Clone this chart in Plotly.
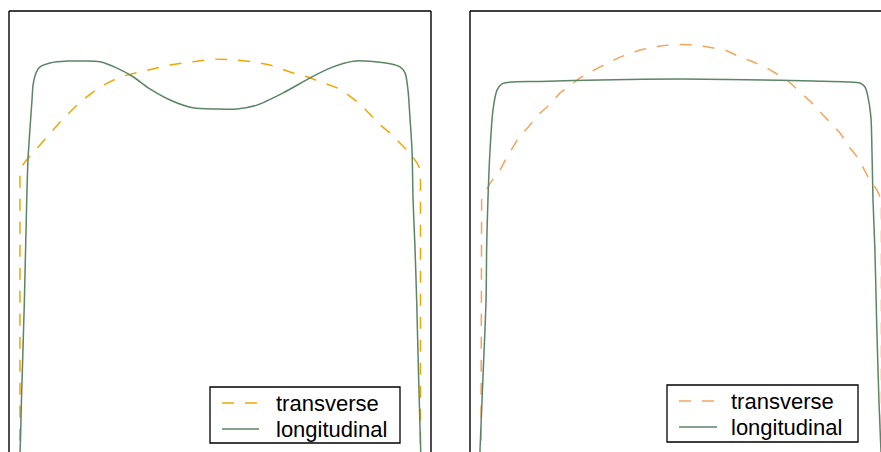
import plotly.graph_objects as go

# Position across the sample (-1 .. 1) and normalised intensity profiles
left_trans_x = [-0.948, -0.948, -0.938, -0.924, -0.853, -0.758, -0.664, -0.569, -0.474, -0.332,
                -0.237, -0.128, -0.033, 0.062, 0.156, 0.237, 0.332, 0.412, 0.569, 0.664,
                0.758, 0.806, 0.853, 0.900, 0.934, 0.950, 0.950]
left_trans_y = [-0.03, 0.711, 0.726, 0.737, 0.780, 0.838, 0.889, 0.927, 0.953, 0.970,
                0.983, 0.991, 0.998, 0.996, 0.991, 0.983, 0.965, 0.953, 0.922, 0.884,
                0.831, 0.810, 0.785, 0.759, 0.734, 0.716, -0.03]

left_long_x = [-0.955, -0.948, -0.941, -0.927, -0.916, -0.910, -0.900, -0.891, -0.886, -0.877,
               -0.867, -0.853, -0.806, -0.725, -0.649, -0.569, -0.488, -0.412, -0.332, -0.237,
               -0.128, -0.014, 0.081, 0.175, 0.299, 0.427, 0.521, 0.640, 0.735, 0.806,
               0.853, 0.877, 0.891, 0.900, 0.910, 0.915, 0.924, 0.932, 0.941, 0.951, 0.953]
left_long_y = [-0.03, 0.000, 0.132, 0.386, 0.640, 0.742, 0.826, 0.894, 0.932, 0.955,
               0.968, 0.978, 0.988, 0.993, 0.993, 0.991, 0.975, 0.953, 0.922, 0.894,
               0.874, 0.871, 0.871, 0.881, 0.912, 0.950, 0.975, 0.993, 0.991, 0.986,
               0.978, 0.963, 0.919, 0.851, 0.767, 0.640, 0.521, 0.386, 0.196, 0.005, -0.03]

right_trans_x = [-0.948, -0.945, -0.938, -0.905, -0.858, -0.825, -0.777, -0.730, -0.668, -0.635,
                 -0.573, -0.479, -0.384, -0.289, -0.194, -0.100, -0.028, 0.043, 0.123, 0.218,
                 0.280, 0.341, 0.408, 0.502, 0.540, 0.578, 0.626, 0.673, 0.716, 0.754,
                 0.801, 0.839, 0.886, 0.929, 0.943, 0.950, 0.950]
right_trans_y = [-0.03, 0.640, 0.648, 0.683, 0.716, 0.749, 0.792, 0.823, 0.861, 0.876,
                 0.912, 0.950, 0.978, 1.003, 1.021, 1.031, 1.035, 1.034, 1.029, 1.019,
                 1.003, 0.991, 0.975, 0.945, 0.927, 0.907, 0.884, 0.856, 0.833, 0.810,
                 0.772, 0.747, 0.699, 0.665, 0.648, 0.627, -0.03]

right_long_x = [-0.955, -0.953, -0.938, -0.924, -0.921, -0.915, -0.905, -0.891, -0.872, -0.848,
                -0.796, -0.668, -0.384, 0.000, 0.469, 0.626, 0.787, 0.848, 0.872, 0.886,
                0.900, 0.905, 0.910, 0.919, 0.927, 0.938, 0.948, 0.950]
right_long_y = [-0.03, 0.000, 0.196, 0.386, 0.521, 0.640, 0.767, 0.869, 0.919, 0.935,
                0.940, 0.941, 0.945, 0.947, 0.944, 0.942, 0.940, 0.937, 0.927, 0.902,
                0.851, 0.767, 0.640, 0.513, 0.335, 0.132, 0.000, -0.03]

series_names = ["transverse", "longitudinal"]

W, H = 881, 452
GREEN = "rgb(92,132,102)"
ORANGE_L = "rgb(240,168,0)"
ORANGE_R = "rgb(246,164,92)"
DASH = "12px,11px"
FONT = "Liberation Sans, Arial, Helvetica, sans-serif"

fig = go.Figure()

fig.add_trace(go.Scatter(x=left_trans_x, y=left_trans_y, mode="lines", name=series_names[0],
                         line=dict(color=ORANGE_L, width=1.5, dash=DASH),
                         xaxis="x", yaxis="y", showlegend=False))
fig.add_trace(go.Scatter(x=left_long_x, y=left_long_y, mode="lines", name=series_names[1],
                         line=dict(color=GREEN, width=1.5, shape="spline", smoothing=0.8),
                         xaxis="x", yaxis="y", showlegend=False))
fig.add_trace(go.Scatter(x=right_trans_x, y=right_trans_y, mode="lines", name=series_names[0],
                         line=dict(color=ORANGE_R, width=1.5, dash=DASH),
                         xaxis="x2", yaxis="y2", showlegend=False))
fig.add_trace(go.Scatter(x=right_long_x, y=right_long_y, mode="lines", name=series_names[1],
                         line=dict(color=GREEN, width=1.5, shape="spline", smoothing=0.8),
                         xaxis="x2", yaxis="y2", showlegend=False))

top = (H - 11) / H
ax = dict(showgrid=False, zeroline=False, showticklabels=False, ticks="", showline=False, fixedrange=True)
fig.update_layout(
    width=W, height=H,
    margin=dict(l=0, r=0, t=0, b=0, autoexpand=False),
    paper_bgcolor="white", plot_bgcolor="white",
    font=dict(family=FONT, color="black"),
    xaxis=dict(ax, domain=[9 / W, 431 / W], range=[-1, 1]),
    yaxis=dict(ax, domain=[0, top], range=[0, 1.12]),
    xaxis2=dict(ax, domain=[470 / W, 1.0], range=[-1, -1 + 2 * 411 / 422]),
    yaxis2=dict(ax, domain=[0, top], range=[0, 1.12]),
    showlegend=False,
)

# Panel frames (the lower edge lies outside the visible area)
frame = dict(color="black", width=1.4)
for xr, yr, sides in (("x domain", "y domain", ("top", "left", "right")),
                      ("x2 domain", "y2 domain", ("top", "left"))):
    if "top" in sides:
        fig.add_shape(type="line", xref=xr, yref=yr, x0=0, x1=1, y0=1, y1=1, line=frame)
    if "left" in sides:
        fig.add_shape(type="line", xref=xr, yref=yr, x0=0, x1=0, y0=0, y1=1, line=frame)
    if "right" in sides:
        fig.add_shape(type="line", xref=xr, yref=yr, x0=1, x1=1, y0=0, y1=1, line=frame)


def px(x):
    return x / W


def py(y):
    return (H - y) / H


# Boxed key for each panel: box, sample lines and labels (pixel layout)
keys = [
    dict(box=(210, 387, 400, 443), sample=(222, 259), text_x=274, rows=(403, 429),
         styles=[dict(color=ORANGE_L, width=1.5, dash=DASH), dict(color=GREEN, width=1.5)]),
    dict(box=(667, 385, 858, 442), sample=(679, 717), text_x=729, rows=(401, 427),
         styles=[dict(color=ORANGE_R, width=1.5, dash=DASH), dict(color=GREEN, width=1.5)]),
]
for k in keys:
    x0, y0, x1, y1 = k["box"]
    fig.add_shape(type="rect", xref="paper", yref="paper",
                  x0=px(x0), x1=px(x1), y0=py(y1), y1=py(y0),
                  line=dict(color="black", width=1.3), fillcolor="white", layer="above")
    for name, row, style in zip(series_names, k["rows"], k["styles"]):
        fig.add_shape(type="line", xref="paper", yref="paper",
                      x0=px(k["sample"][0]), x1=px(k["sample"][1]), y0=py(row), y1=py(row),
                      line=style, layer="above")
        fig.add_annotation(x=px(k["text_x"]), y=py(row), xref="paper", yref="paper",
                           text=name, showarrow=False, xanchor="left", yanchor="middle",
                           font=dict(size=22, family=FONT, color="black"))

fig.write_html("out.html")
